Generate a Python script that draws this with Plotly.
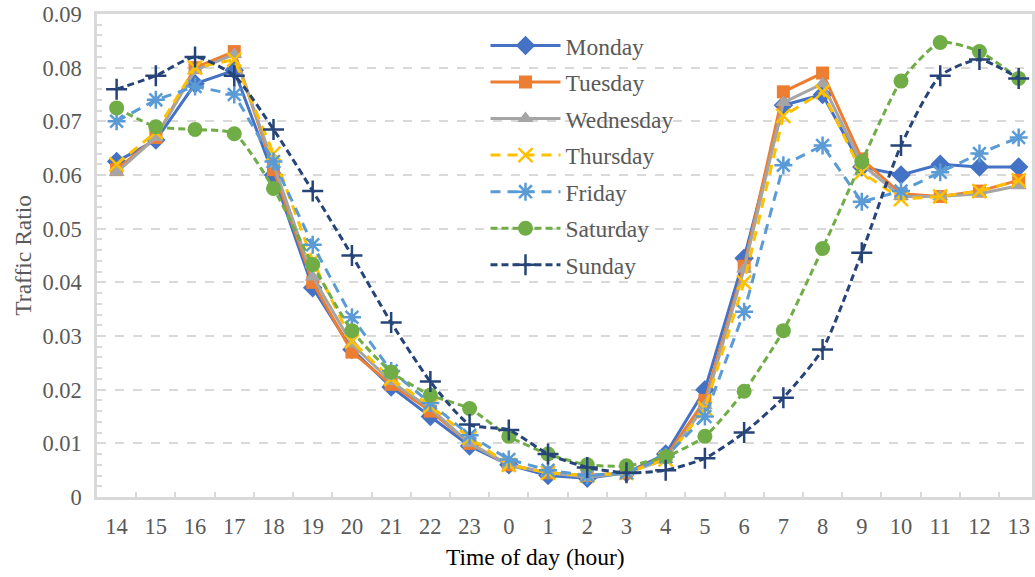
import plotly.graph_objects as go

hours = ["14", "15", "16", "17", "18", "19", "20", "21", "22", "23", "0", "1",
         "2", "3", "4", "5", "6", "7", "8", "9", "10", "11", "12", "13"]

monday = [0.0625, 0.0665, 0.0770, 0.0795, 0.0600, 0.0390, 0.0275, 0.0205, 0.0150, 0.0095, 0.0060, 0.0040,
          0.0035, 0.0045, 0.0080, 0.0200, 0.0445, 0.0730, 0.0750, 0.0615, 0.0600, 0.0620, 0.0615, 0.0615]
tuesday = [0.0610, 0.0670, 0.0800, 0.0830, 0.0610, 0.0400, 0.0270, 0.0210, 0.0160, 0.0100, 0.0060, 0.0045,
           0.0040, 0.0045, 0.0075, 0.0180, 0.0430, 0.0755, 0.0790, 0.0630, 0.0565, 0.0560, 0.0570, 0.0590]
wednesday = [0.0605, 0.0670, 0.0795, 0.0825, 0.0620, 0.0410, 0.0285, 0.0215, 0.0165, 0.0100, 0.0060, 0.0045,
             0.0037, 0.0045, 0.0070, 0.0170, 0.0425, 0.0735, 0.0770, 0.0620, 0.0560, 0.0560, 0.0565, 0.0580]
thursday = [0.0620, 0.0680, 0.0800, 0.0815, 0.0640, 0.0440, 0.0290, 0.0220, 0.0170, 0.0110, 0.0060, 0.0045,
            0.0040, 0.0045, 0.0070, 0.0165, 0.0400, 0.0710, 0.0755, 0.0605, 0.0555, 0.0560, 0.0570, 0.0590]
friday = [0.0700, 0.0740, 0.0765, 0.0750, 0.0625, 0.0470, 0.0335, 0.0235, 0.0175, 0.0115, 0.0070, 0.0050,
          0.0040, 0.0045, 0.0075, 0.0150, 0.0345, 0.0618, 0.0655, 0.0550, 0.0570, 0.0605, 0.0640, 0.0670]
saturday = [0.0725, 0.0690, 0.0685, 0.0677, 0.0575, 0.0433, 0.0310, 0.0233, 0.0190, 0.0165, 0.0113, 0.0080,
            0.0060, 0.0058, 0.0075, 0.0113, 0.0197, 0.0310, 0.0463, 0.0625, 0.0775, 0.0847, 0.0830, 0.0780]
sunday = [0.0760, 0.0785, 0.0820, 0.0785, 0.0685, 0.0570, 0.0450, 0.0325, 0.0215, 0.0135, 0.0125, 0.0080,
          0.0055, 0.0045, 0.0050, 0.0072, 0.0120, 0.0185, 0.0275, 0.0455, 0.0655, 0.0785, 0.0815, 0.0780]

y_ticks = [0, 0.01, 0.02, 0.03, 0.04, 0.05, 0.06, 0.07, 0.08, 0.09]
y_tick_labels = ["0", "0.01", "0.02", "0.03", "0.04", "0.05", "0.06", "0.07", "0.08", "0.09"]

series = [
    ("Monday", monday, "#4472C4", "solid", "diamond", 15, "linear"),
    ("Tuesday", tuesday, "#ED7D31", "solid", "square", 13, "linear"),
    ("Wednesday", wednesday, "#A5A5A5", "solid", "triangle-up", 14, "linear"),
    ("Thursday", thursday, "#FFC000", "10px,7px", "x-thin-open", 14, "linear"),
    ("Friday", friday, "#5B9BD5", "10px,7px", "asterisk-open", 15, "linear"),
    ("Saturday", saturday, "#70AD47", "7px,4px", "circle", 15, "spline"),
    ("Sunday", sunday, "#264478", "7px,4px", "cross-thin-open", 15, "spline"),
]

FONT = "Liberation Serif, Times New Roman, serif"

fig = go.Figure()
for i, (name, vals, color, dash, sym, msize, shape) in enumerate(series):
    fig.add_trace(go.Scatter(
        x=hours, y=vals, name=name, mode="lines+markers",
        legendgroup=name,
        line=dict(color=color, width=3, dash=dash, shape=shape, smoothing=0.6),
        marker=dict(symbol=sym, size=msize, color=color,
                    line=dict(color=color, width=2.5 if "open" in sym else 0)),
    ))

fig.update_layout(
    width=1035, height=577,
    margin=dict(l=96.5, r=0, t=14, b=80),
    paper_bgcolor="white", plot_bgcolor="white",
    font=dict(family=FONT, color="#595959", size=23),
    showlegend=True,
    legend=dict(
        x=0.4155, y=0.98, xanchor="left", yanchor="top",
        bgcolor="rgba(255,255,255,0)",
        font=dict(family=FONT, size=23.5, color="#595959"),
        itemwidth=70, traceorder="grouped", tracegroupgap=3,
    ),
    xaxis=dict(
        type="category", range=[-0.5, 23.34],
        tickson="boundaries", ticks="inside", ticklen=5, tickwidth=2, tickcolor="#D9D9D9",
        showline=True, linecolor="#D9D9D9", linewidth=2.5, mirror=True,
        showgrid=False, tickfont=dict(family=FONT, size=22.5, color="#595959"),
        ticklabelstandoff=7,
    ),
    yaxis=dict(
        range=[0, 0.09], tickvals=y_ticks, ticktext=y_tick_labels,
        ticks="inside", ticklen=5, tickwidth=2, tickcolor="#D9D9D9",
        showline=True, linecolor="#D9D9D9", linewidth=2.5, mirror=True,
        showgrid=True, gridcolor="#D9D9D9", gridwidth=2, griddash="dash",
        zeroline=False,
        minor=dict(dtick=0.002, tick0=0, ticks="inside", ticklen=5, tickwidth=1.5,
                   tickcolor="#D9D9D9", showgrid=False),
        tickfont=dict(family=FONT, size=22.5, color="#595959"),
        ticklabelstandoff=8,
    ),
    annotations=[
        dict(text="Time of day (hour)", xref="paper", yref="paper",
             x=(537 - 96.5) / 938.5, y=-0.125, xanchor="center", yanchor="middle",
             showarrow=False, font=dict(family=FONT, size=23.5, color="#000000")),
        dict(text="Traffic Ratio", xref="paper", yref="paper",
             x=-0.08, y=0.5, xanchor="center", yanchor="middle", textangle=-90,
             showarrow=False, font=dict(family=FONT, size=23.5, color="#595959")),
    ],
)

fig.write_html("out.html")
